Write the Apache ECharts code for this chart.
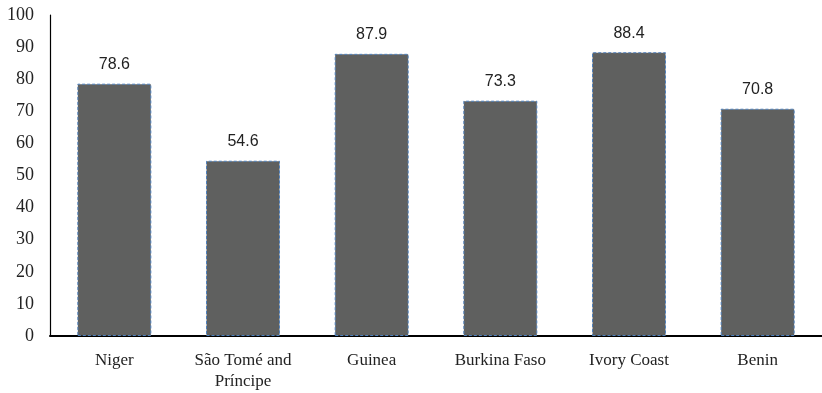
<!DOCTYPE html>
<html>
<head>
<meta charset="utf-8">
<script src="https://cdn.jsdelivr.net/npm/echarts@6/dist/echarts.min.js"></script>
<style>
  html, body { margin: 0; padding: 0; background: #fff; }
  #chart { width: 822px; height: 393px; }
</style>
</head>
<body>
<div id="chart"></div>
<script>
// Countries and their values
const countries = ['Niger', 'São Tomé and\nPríncipe', 'Guinea', 'Burkina Faso', 'Ivory Coast', 'Benin'];
const values = [78.6, 54.6, 87.9, 73.3, 88.4, 70.8];

const chart = echarts.init(document.getElementById('chart'), null, { renderer: 'canvas' });

chart.setOption({
  animation: false,
  grid: { left: 50, right: 0, top: 15, bottom: 57, containLabel: false },
  xAxis: {
    type: 'category',
    data: countries,
    axisLine: { show: true, lineStyle: { color: '#000', width: 2 } },
    axisTick: { show: false },
    axisLabel: {
      color: '#222',
      fontFamily: 'Liberation Serif',
      fontSize: 17,
      margin: 14,
      lineHeight: 21
    }
  },
  yAxis: {
    type: 'value',
    min: 0,
    max: 100,
    interval: 10,
    splitLine: { show: false },
    axisLine: { show: true, lineStyle: { color: '#000', width: 1.2 } },
    axisTick: { show: false },
    axisLabel: {
      color: '#222',
      fontFamily: 'Liberation Serif',
      fontSize: 18,
      margin: 16
    }
  },
  series: [{
    type: 'bar',
    data: values,
    barWidth: '57.5%',
    itemStyle: {
      color: '#5f605f',
      borderColor: '#4f81bd',
      borderWidth: 1,
      borderType: [3, 2]
    },
    label: {
      show: true,
      position: 'top',
      distance: 11,
      color: '#222',
      fontFamily: 'Liberation Sans',
      fontSize: 16,
      formatter: p => p.value.toFixed(1)
    }
  }]
});
</script>
</body>
</html>
